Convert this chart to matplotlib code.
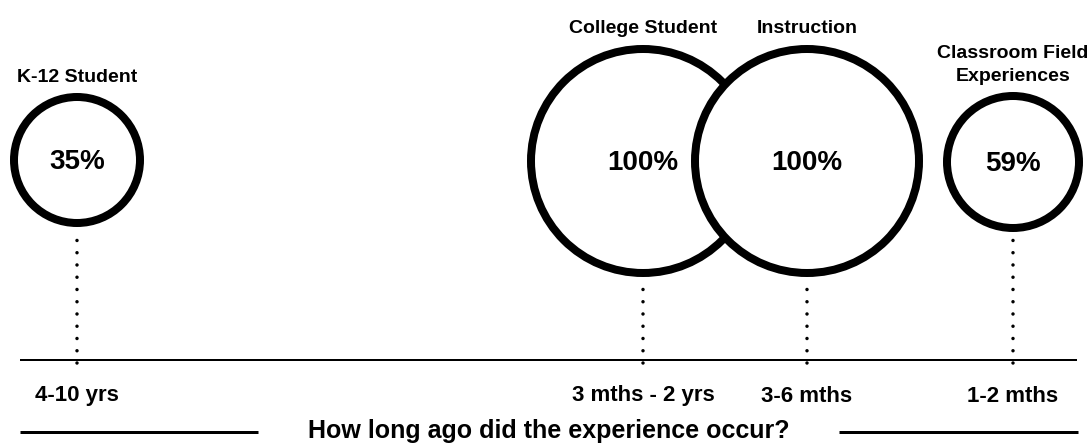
import matplotlib
matplotlib.use("Agg")
import matplotlib.pyplot as plt
from matplotlib.patches import Circle

# ---- data ----
categories = ["K-12 Student", "College Student", "Instruction", "Classroom Field\nExperiences"]
percent_values = [35, 100, 100, 59]
time_labels = ["4-10 yrs", "3 mths - 2 yrs", "3-6 mths", "1-2 mths"]
axis_title = "How long ago did the experience occur?"

# ---- layout (pixel coordinates, y downward) ----
W, H = 1092, 443
x_pos = [77, 643, 807, 1013]
ring_radius = [63, 112, 112, 66]
center_y = [160, 161, 161, 162]
label_y = [77, 28, 28, 65]
axis_y = 360
tick_label_y = 396
title_y = 431

plt.rcParams['font.family'] = ['Liberation Sans', 'DejaVu Sans']
fig = plt.figure(figsize=(W / 100, H / 100), dpi=100)
ax = fig.add_axes([0, 0, 1, 1])
ax.set_xlim(0, W)
ax.set_ylim(H, 0)
ax.axis("off")

px = 0.72  # points per pixel

# baseline axis
ax.plot([20, 1077], [axis_y, axis_y], color="black", lw=2 * px, solid_capstyle="butt", zorder=1)

for i, (cat, val, tl) in enumerate(zip(categories, percent_values, time_labels)):
    x = x_pos[i]
    r = ring_radius[i]
    cy = center_y[i]
    # dotted connector (drawn upward from just below the axis)
    ax.plot([x, x], [axis_y + 3, cy + r + 12], color="black", lw=3.5 * px,
            linestyle=(0, (0.001, 3.5)), dash_capstyle="round", zorder=2)
    circ = Circle((x, cy), r, facecolor="white", edgecolor="black", lw=8 * px, zorder=3 + i)
    ax.add_patch(circ)
    ax.text(x, cy + 2, f"{val}%", ha="center", va="center", fontsize=20,
            fontweight="bold", zorder=10)
    ax.text(x, label_y[i], cat, ha="center", va="center", fontsize=14,
            fontweight="bold", linespacing=1.42, zorder=10)
    ax.text(x, tick_label_y, tl, ha="center", va="center", fontsize=16,
            fontweight="bold", zorder=10)

# axis title with flanking rules
ax.text(549, title_y, axis_title, ha="center", va="center", fontsize=18, fontweight="bold")
ax.plot([20, 258], [title_y + 1, title_y + 1], color="black", lw=3 * px, solid_capstyle="butt")
ax.plot([839, 1078], [title_y + 1, title_y + 1], color="black", lw=3 * px, solid_capstyle="butt")

fig.savefig("out.png", dpi=100, facecolor="white")
